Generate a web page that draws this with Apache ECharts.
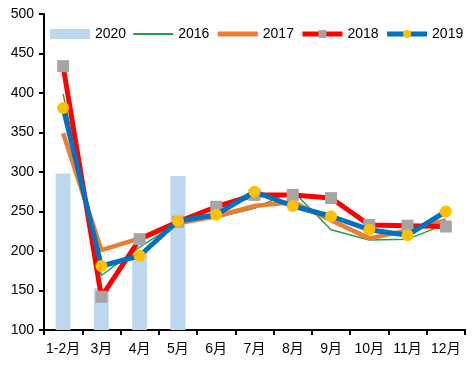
<!DOCTYPE html>
<html><head><meta charset="utf-8">
<script src="https://cdn.jsdelivr.net/npm/echarts@6/dist/echarts.min.js"></script>
<style>html,body{margin:0;padding:0;background:#fff}#c{width:473px;height:375px}</style>
</head><body><div id="c"></div>
<script>
var categories = ['1-2月','3月','4月','5月','6月','7月','8月','9月','10月','11月','12月'];
var s2020 = [298, 153, 200, 295, null, null, null, null, null, null, null];
var s2016 = [399, 169, 205, 236, 242, 254, 276, 227, 214, 215, 234];
var s2017 = [349, 201, 216, 235, 244, 257, 262, 239, 216, 226, 239];
var s2018 = [434, 142, 215, 237, 256, 271, 271, 267, 233, 232, 231];
var s2019 = [381, 181, 194, 238, 246, 275, 257, 244, 227, 220, 250];
var yTicks = {min: 100, max: 500, interval: 50};

var font = '"Liberation Sans","Noto Sans CJK SC",sans-serif';
var chart = echarts.init(document.getElementById('c'), null, {renderer: 'canvas'});
chart.setOption({
  animation: false,
  textStyle: {fontFamily: font},
  legend: {
    top: 27, left: 50, width: 460, padding: 0, itemWidth: 40, itemHeight: 10, itemGap: 6,
    textStyle: {fontSize: 14, color: '#000', fontFamily: font},
    data: [
      {name: '2020', icon: 'rect'},
      {name: '2016', lineStyle: {width: 2}, itemStyle: {opacity: 0}},
      {name: '2017', lineStyle: {width: 5}, itemStyle: {opacity: 0}},
      {name: '2018', lineStyle: {width: 5}},
      {name: '2019', lineStyle: {width: 5}}
    ]
  },
  grid: {left: 44, right: 8, top: 14, bottom: 45},
  xAxis: {
    type: 'category', data: categories, boundaryGap: true,
    axisLine: {lineStyle: {color: '#000', width: 2}},
    axisTick: {show: true, alignWithLabel: false, length: 5, lineStyle: {color: '#000', width: 2}},
    axisLabel: {color: '#000', fontSize: 14, margin: 12, interval: 0, fontFamily: font}
  },
  yAxis: {
    type: 'value', min: yTicks.min, max: yTicks.max, interval: yTicks.interval,
    axisLine: {show: true, lineStyle: {color: '#000', width: 2}},
    axisTick: {show: true, length: 5, lineStyle: {color: '#000', width: 2}},
    splitLine: {show: false},
    axisLabel: {color: '#000', fontSize: 14, margin: 10, fontFamily: font}
  },
  series: [
    {name: '2020', type: 'bar', data: s2020, barWidth: 15, itemStyle: {color: '#BDD7EE'}, z: 1},
    {name: '2016', type: 'line', data: s2016, symbol: 'none', lineStyle: {color: '#1FA34A', width: 1.5}, itemStyle: {color: '#1FA34A'}, z: 2},
    {name: '2017', type: 'line', data: s2017, symbol: 'none', lineStyle: {color: '#ED7D31', width: 4.5}, itemStyle: {color: '#ED7D31'}, z: 3},
    {name: '2018', type: 'line', data: s2018, symbol: 'rect', symbolSize: 12, lineStyle: {color: '#FF0000', width: 5}, itemStyle: {color: '#A5A5A5', borderWidth: 0}, z: 4},
    {name: '2019', type: 'line', data: s2019, symbol: 'circle', symbolSize: 12, lineStyle: {color: '#0070C0', width: 5}, itemStyle: {color: '#FFC000', borderWidth: 0}, z: 5}
  ]
});
</script></body></html>
